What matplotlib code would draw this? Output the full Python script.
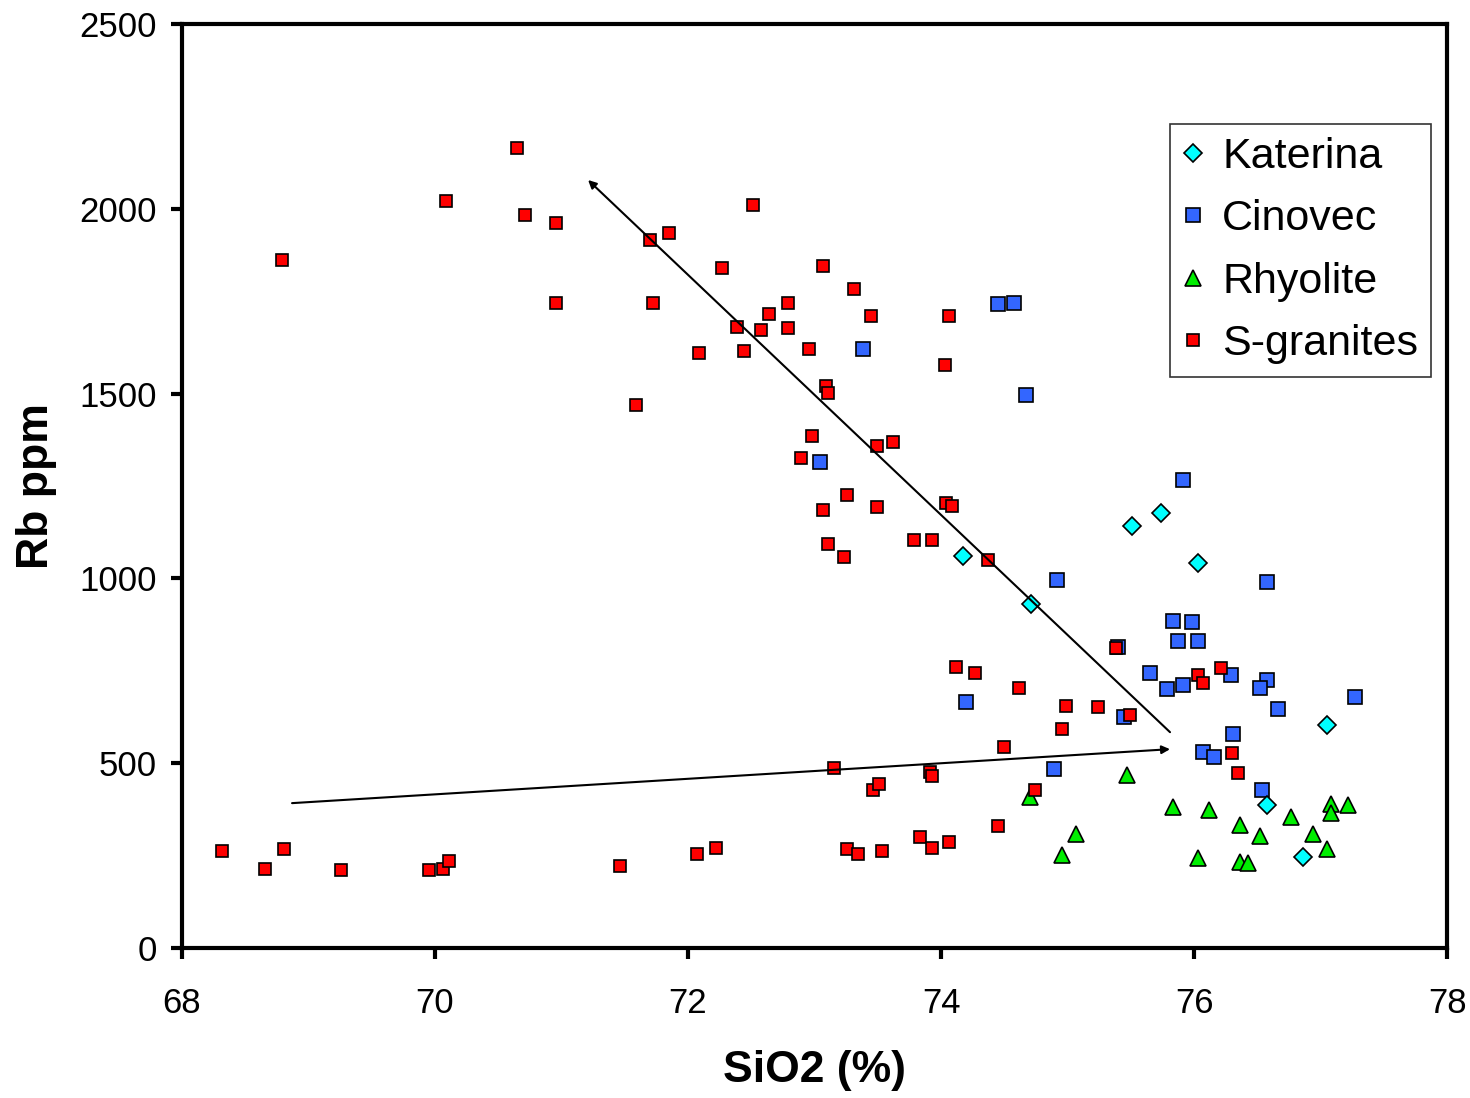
import matplotlib
matplotlib.use('Agg')
import matplotlib.pyplot as plt

plt.rcParams['font.family'] = ['Liberation Sans', 'DejaVu Sans']

# Katerina
kat_x = [74.17, 74.71, 75.51, 75.74, 76.03, 77.05, 76.58, 76.86]
kat_y = [1062, 930, 1143, 1176, 1041, 603, 386, 246]

# Cinovec
cin_x = [73.38, 74.45, 74.58, 74.67, 73.04, 75.91, 74.92, 76.58, 75.83, 75.98,
         75.87, 76.03, 75.40, 75.65, 75.79, 75.91, 76.29, 76.58, 76.52, 77.27,
         76.66, 74.20, 75.45, 76.31, 76.07, 76.16, 74.89, 76.54]
cin_y = [1622, 1743, 1746, 1495, 1316, 1265, 997, 989, 884, 881,
         832, 832, 814, 743, 700, 711, 738, 724, 703, 678,
         646, 665, 624, 578, 530, 516, 484, 427]

# Rhyolite
rhy_x = [74.70, 75.47, 75.83, 76.12, 75.07, 76.36, 76.52, 76.77, 76.94, 77.08,
         77.08, 77.22, 77.05, 74.96, 76.03, 76.36, 76.43]
rhy_y = [408, 468, 381, 373, 308, 332, 303, 354, 308, 389,
         365, 386, 268, 251, 243, 232, 230]

# S-granites
sg_x = [68.32, 68.66, 68.81, 68.79, 69.26, 69.95, 70.06, 70.11, 70.09, 70.65,
        70.71, 70.96, 70.96, 71.46, 71.59, 71.70, 71.72, 71.85, 72.07, 72.09,
        72.22, 72.27, 72.39, 72.44, 72.51, 72.58, 72.64, 72.79, 72.79, 72.89,
        72.96, 72.98, 73.07, 73.09, 73.11, 73.07, 73.11, 73.15, 73.23, 73.26,
        73.26, 73.31, 73.34, 73.45, 73.46, 73.49, 73.49, 73.51, 73.53, 73.62,
        73.79, 73.83, 73.91, 73.93, 73.93, 73.93, 74.03, 74.04, 74.06, 74.06,
        74.09, 74.12, 74.27, 74.37, 74.45, 74.50, 74.62, 74.74, 74.96, 74.99,
        75.24, 75.38, 75.49, 76.03, 76.07, 76.21, 76.30, 76.35]
sg_y = [262, 214, 268, 1862, 211, 211, 214, 235, 2022, 2165,
        1984, 1962, 1746, 222, 1470, 1916, 1746, 1935, 254, 1611,
        270, 1841, 1681, 1616, 2011, 1673, 1716, 1746, 1678, 1327,
        1622, 1386, 1846, 1522, 1503, 1186, 1092, 486, 1057, 1227,
        268, 1784, 254, 1711, 427, 1192, 1357, 443, 262, 1370,
        1105, 300, 476, 465, 1105, 270, 1578, 1205, 1711, 286,
        1195, 759, 743, 1049, 330, 543, 703, 427, 592, 654,
        651, 811, 630, 738, 716, 757, 527, 473]

# trend arrows (start, end)
arrow_down = [(75.81, 584), (71.21, 2078)]
arrow_flat = [(68.87, 392), (75.81, 538)]

fig = plt.figure(figsize=(14.7, 10.98), dpi=100)
ax = fig.add_axes([0.1238, 0.1366, 0.8606, 0.8415])

ax.plot(kat_x, kat_y, 'D', ms=9.5, mfc='#00FFFF', mec='black', mew=1.2,
        ls='none', label='Katerina', zorder=4)
ax.plot(cin_x, cin_y, 's', ms=10.5, mfc='#3366FF', mec='black', mew=1.2,
        ls='none', label='Cinovec', zorder=3)
ax.plot(rhy_x, rhy_y, '^', ms=11, mfc='#00EE00', mec='black', mew=1.2,
        ls='none', label='Rhyolite', zorder=2)
ax.plot(sg_x, sg_y, 's', ms=8, mfc='#FF0000', mec='black', mew=1.2,
        ls='none', label='S-granites', zorder=5)

for start, end in [arrow_down, arrow_flat]:
    ax.annotate('', xy=end, xytext=start,
                arrowprops=dict(arrowstyle='-|>', color='black', lw=1.5,
                                mutation_scale=12, shrinkA=0, shrinkB=0),
                zorder=6)

ax.set_xlim(68, 78)
ax.set_ylim(0, 2500)
ax.set_xticks([68, 70, 72, 74, 76, 78])
ax.set_yticks([0, 500, 1000, 1500, 2000, 2500])
ax.tick_params(labelsize=25, width=3, length=8, direction='out')
ax.tick_params(axis='x', pad=20)
ax.tick_params(axis='y', pad=10)
for sp in ax.spines.values():
    sp.set_linewidth(3)

ax.set_xlabel('SiO2 (%)', fontsize=32, fontweight='bold', labelpad=22)
ax.set_ylabel('Rb ppm', fontsize=32, fontweight='bold', labelpad=16)

leg = ax.legend(loc='upper right', bbox_to_anchor=(1431 / 1470, 1 - 124 / 1098),
                bbox_transform=fig.transFigure, fontsize=31, frameon=True,
                fancybox=False, edgecolor='black', handlelength=0.45,
                handletextpad=0.45, labelspacing=0.52, borderpad=0.3,
                borderaxespad=0)
leg.get_frame().set_linewidth(1.2)

fig.savefig('out.png', dpi=100)
